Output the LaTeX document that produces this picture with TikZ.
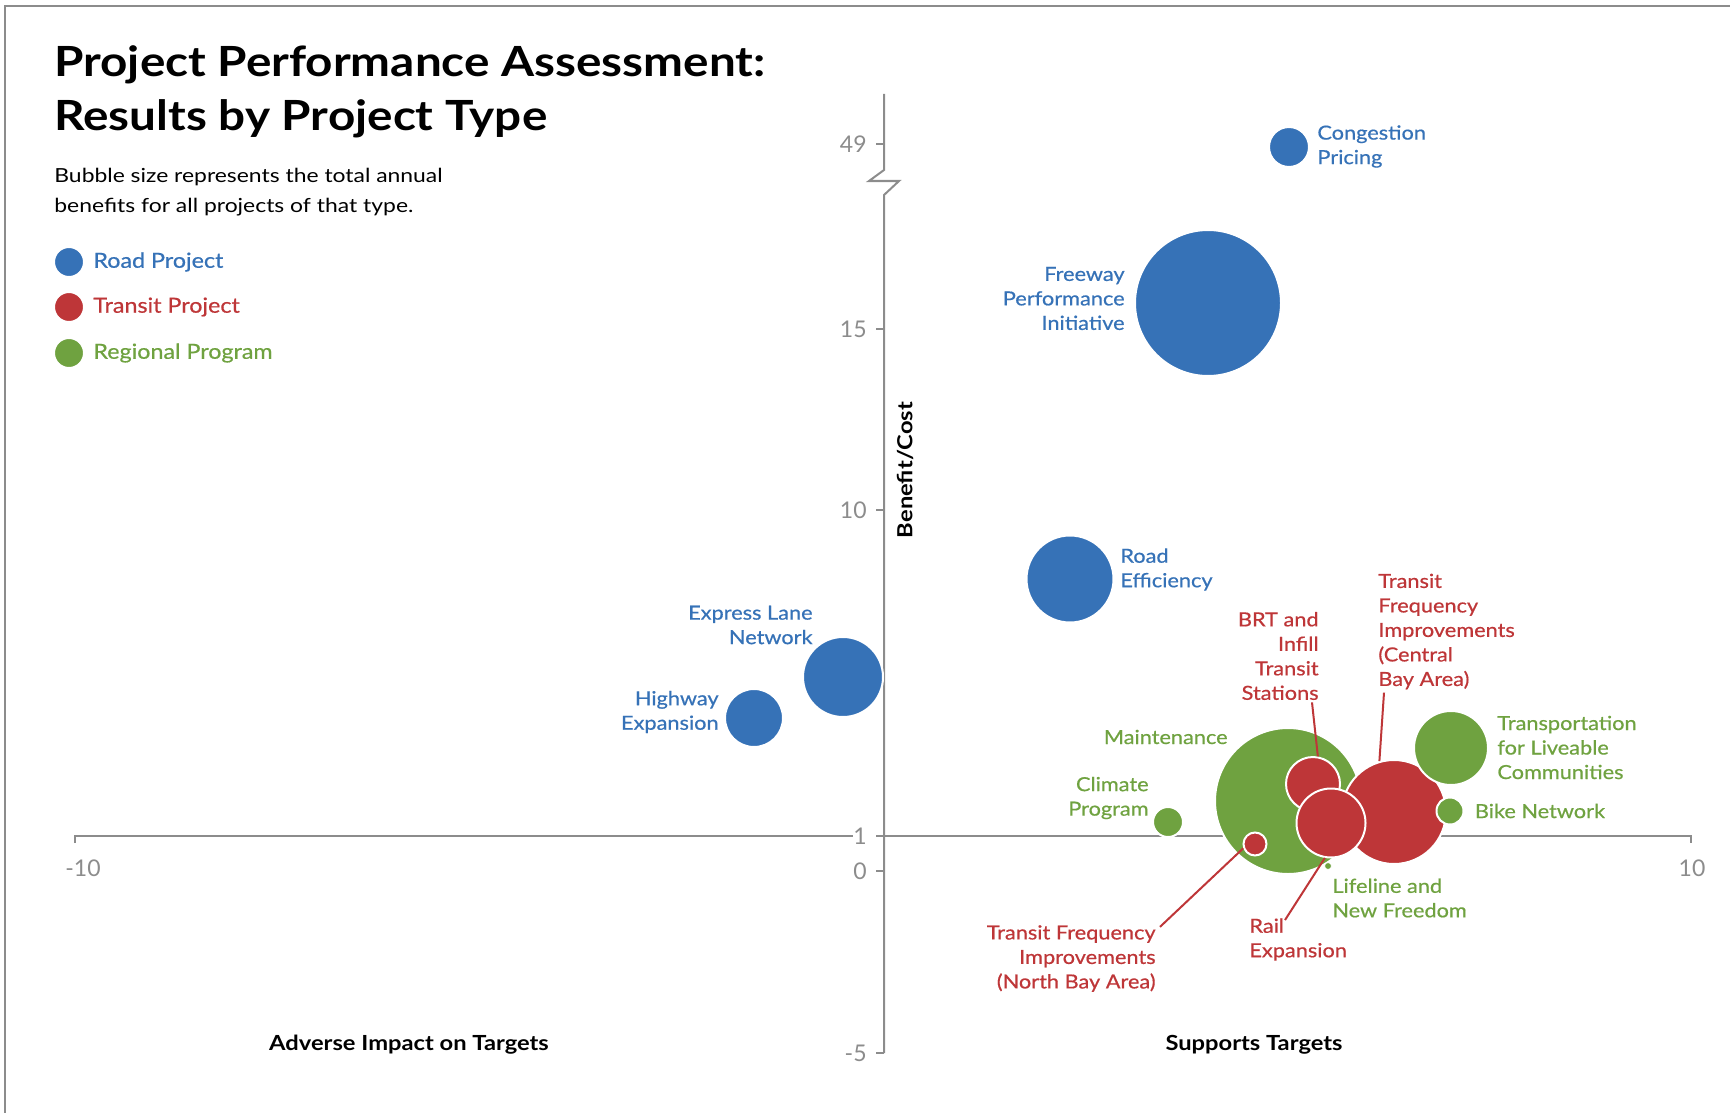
\documentclass[tikz,border=0pt]{standalone}
\usepackage{fontspec}
\setmainfont{Lato}
\newfontfamily\headfont{Lato}[FakeStretch=1.145]
\newfontfamily\notefont{Lato}[FakeStretch=1.18]
\newfontfamily\tagfont{Lato}[FakeStretch=1.12, FakeBold=0.6]
\newfontfamily\axfont{Lato}[FakeStretch=1.14]
\usetikzlibrary{positioning}

\definecolor{roadblue}{HTML}{3672B7}
\definecolor{transitred}{HTML}{BE3638}
\definecolor{regiongreen}{HTML}{6FA240}
\definecolor{axisgray}{HTML}{8C8C8C}

\tikzset{
  bubble/.style={circle, draw=white, line width=1pt, inner sep=0pt, minimum size=#1pt},
  road/.style={bubble=#1, fill=roadblue},
  transit/.style={bubble=#1, fill=transitred},
  region/.style={bubble=#1, fill=regiongreen},
  tag/.style={inner sep=0pt, font=\tagfont\fontsize{9.7}{12.25}\selectfont},
  keytext/.style={inner sep=0pt, anchor=west, font=\tagfont\fontsize{10.4}{12}\selectfont},
  title/.style={inner sep=0pt, anchor=base west, font=\headfont\fontsize{20.8}{25}\selectfont\bfseries},
  note/.style={inner sep=0pt, anchor=base west, font=\notefont\fontsize{9.7}{12}\selectfont},
  axtitle/.style={inner sep=0pt, font=\axfont\fontsize{10.4}{12}\selectfont\bfseries},
  ticklbl/.style={inner sep=0pt, anchor=east, axisgray, font=\fontsize{11.5}{12}\selectfont},
  axis/.style={axisgray, line width=1pt},
  leader/.style={transitred, line width=1pt}
}

\begin{document}
\begin{tikzpicture}[x=0.5pt, y=-0.5pt]
\useasboundingbox (0,0) rectangle (1730,1113);
\draw[axisgray, line width=1pt] (5,1113) -- (5,6) -- (1730,6);

% title and note
\node[title] (ttl1) at (54,77) {Project Performance Assessment:};
\node[title] (ttl2) at (54,131) {Results by Project Type};
\node[note] (sub1) at (54,183) {Bubble size represents the total annual};
\node[note] (sub2) at (54,213) {benefits for all projects of that type.};

% legend
\node[road=15] (kroad) at (69,262) {};
\node[transit=15] (ktransit) at (69,307) {};
\node[region=15] (kregion) at (69,353) {};
\node[keytext, roadblue] (kroadlbl) at (93,262) {Road Project};
\node[keytext, transitred] (ktransitlbl) at (93,307) {Transit Project};
\node[keytext, regiongreen] (kregionlbl) at (93,353) {Regional Program};

% axes
\draw[axis] (75,843) -- (75,836) -- (853,836);
\draw[axis] (876,836) -- (1691,836) -- (1691,843);
\draw[axis] (884,94) -- (884,170) -- (869,181) -- (899,181) -- (884,195) -- (884,1053);
\foreach \v/\y in {49/144,15/329,10/510,1/836,0/871,-5/1053} {
  \draw[axis] (876,\y) -- (884,\y);
  \node[ticklbl] (yt\y) at (867,\y) {\v};
}
\node[ticklbl, anchor=center] (xtmin) at (83,868) {-10};
\node[ticklbl, anchor=center] (xtmax) at (1692,868) {10};
\node[axtitle, rotate=90] (yttl) at (905,470) {Benefit/Cost};
\node[axtitle] (advttl) at (409,1045) {Adverse Impact on Targets};
\node[axtitle] (supttl) at (1254,1045) {Supports Targets};

% bubbles
\node[road=20] (cong) at (1289,147) {};
\node[road=73] (fpi) at (1208,303) {};
\node[road=43.5] (reff) at (1070,579) {};
\node[road=40] (expl) at (843,677) {};
\node[road=29] (hwy) at (754,718) {};
\node[region=73] (maint) at (1288,801) {};
\node[region=15] (clim) at (1168,822) {};
\node[transit=27] (brt) at (1313,784) {};
\node[transit=52] (cbay) at (1394,812) {};
\node[transit=34.5] (rail) at (1331,823) {};
\node[transit=11.5] (nbay) at (1255,844) {};
\node[region=37] (tlc) at (1451,748) {};
\node[region=13.5] (bike) at (1450,811) {};
\node[region=3.5, line width=0.4pt] (life) at (1328,866) {};

% labels
\node[tag, roadblue, anchor=west, align=left] (conglbl) at (1317,146.5) {Congestion\\Pricing};
\node[tag, roadblue, anchor=east, align=right] (fpilbl) at (1125,298.5) {Freeway\\Performance\\Initiative};
\node[tag, roadblue, anchor=west, align=left] (refflbl) at (1120,569.5) {Road\\Efficiency};
\node[tag, roadblue, anchor=east, align=right] (expllbl) at (813,625) {Express Lane\\Network};
\node[tag, roadblue, anchor=east, align=right] (hwylbl) at (719,712) {Highway\\Expansion};
\node[tag, regiongreen, anchor=east] (maintlbl) at (1228,737) {Maintenance};
\node[tag, regiongreen, anchor=east, align=right] (climlbl) at (1149,798) {Climate\\Program};
\node[tag, transitred, anchor=east, align=right] (brtlbl) at (1319,656) {BRT and\\Infill\\Transit\\Stations};
\node[tag, transitred, anchor=west, align=left] (cbaylbl) at (1378,631.5) {Transit\\Frequency\\Improvements\\(Central\\Bay Area)};
\node[tag, regiongreen, anchor=west, align=left] (tlclbl) at (1497,747.5) {Transportation\\for Liveable\\Communities};
\node[tag, regiongreen, anchor=west] (bikelbl) at (1474.5,811) {Bike Network};
\node[tag, regiongreen, anchor=west, align=left] (lifelbl) at (1332,898) {Lifeline and\\New Freedom};
\node[tag, transitred, anchor=west, align=left] (raillbl) at (1249,939.5) {Rail\\Expansion};
\node[tag, transitred, anchor=east, align=right] (nbaylbl) at (1156,958.5) {Transit Frequency\\Improvements\\(North Bay Area)};

% leader lines
\draw[leader] ([xshift=-3.5pt,yshift=-1pt]brtlbl.south east) -- (brt.80);
\draw[leader] ([xshift=3pt,yshift=-1.5pt]cbaylbl.south west) -- (cbay.106);
\draw[leader] ([xshift=18pt,yshift=-1pt]raillbl.north west) -- (rail.-100);
\draw[leader] ([xshift=2pt,yshift=-1pt]nbaylbl.north east) -- (nbay.200);
\end{tikzpicture}
\end{document}
